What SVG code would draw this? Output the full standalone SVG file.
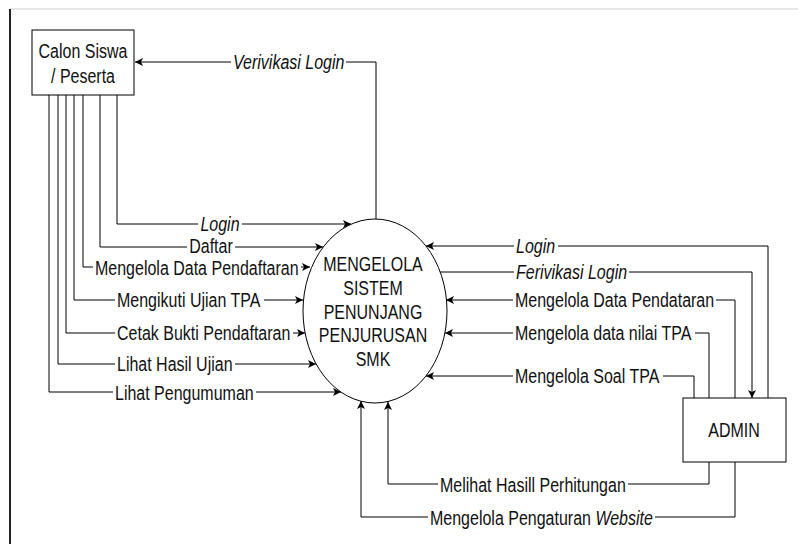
<svg xmlns="http://www.w3.org/2000/svg" width="798" height="544" viewBox="0 0 798 544">
<defs>
<marker id="arr" markerUnits="userSpaceOnUse" markerWidth="10" markerHeight="8" refX="8" refY="4" orient="auto">
<path d="M0,0 L8,4 L0,8 L2,4 z" fill="#000"/>
</marker>
<style>
.ln{fill:none;stroke:#000;stroke-width:1}
.t{font-family:"Liberation Sans",Arial,sans-serif;font-size:16px;fill:#111}
.i{font-style:italic}
.mid{text-anchor:middle}
.bg{fill:#fff}
.box{fill:#fff;stroke:#000;stroke-width:1}
</style>
</defs>
<rect width="798" height="544" fill="#fff"/>
<line x1="10" y1="9" x2="798" y2="9" stroke="#d0d0d0" stroke-width="1"/>
<line x1="10" y1="9" x2="10" y2="544" stroke="#222" stroke-width="2"/>

<g id="connectors">
<path class="ln" d="M376,219 V62 H135" marker-end="url(#arr)"/>
<path class="ln" d="M117,95 V224 H351" marker-end="url(#arr)"/>
<path class="ln" d="M100,95 V247 H323" marker-end="url(#arr)"/>
<path class="ln" d="M83,95 V267 H310" marker-end="url(#arr)"/>
<path class="ln" d="M74,95 V300 H303" marker-end="url(#arr)"/>
<path class="ln" d="M66,95 V333 H305" marker-end="url(#arr)"/>
<path class="ln" d="M58,95 V364 H316" marker-end="url(#arr)"/>
<path class="ln" d="M49,95 V392 H341" marker-end="url(#arr)"/>
<path class="ln" d="M768,400 V246 H426" marker-end="url(#arr)"/>
<path class="ln" d="M440,272 H752 V398" marker-end="url(#arr)"/>
<path class="ln" d="M735,398 V300 H446" marker-end="url(#arr)"/>
<path class="ln" d="M709,398 V333 H445" marker-end="url(#arr)"/>
<path class="ln" d="M694,398 V376 H426" marker-end="url(#arr)"/>
<path class="ln" d="M709,462 V484 H388 V402" marker-end="url(#arr)"/>
<path class="ln" d="M735,462 V517 H361 V401" marker-end="url(#arr)"/>

<rect class="bg" x="231" y="54" width="115" height="18"/>
<rect class="bg" x="198" y="216" width="44" height="16"/>
<rect class="bg" x="187" y="239" width="48" height="16"/>
<rect class="bg" x="93" y="259" width="208" height="16"/>
<rect class="bg" x="115" y="292" width="149" height="16"/>
<rect class="bg" x="115" y="325" width="178" height="16"/>
<rect class="bg" x="115" y="356" width="120" height="16"/>
<rect class="bg" x="113" y="385" width="143" height="18"/>
<rect class="bg" x="514" y="238" width="44" height="16"/>
<rect class="bg" x="514" y="264" width="115" height="16"/>
<rect class="bg" x="513" y="292" width="203" height="16"/>
<rect class="bg" x="513" y="325" width="182" height="16"/>
<rect class="bg" x="513" y="368" width="150" height="16"/>
<rect class="bg" x="438" y="477" width="190" height="18"/>
<rect class="bg" x="428" y="510" width="227" height="18"/>

<text class="t i" transform="translate(233,69) scale(1,1.3)">Verivikasi Login</text>
<text class="t i mid" transform="translate(220,231) scale(1,1.3)">Login</text>
<text class="t mid" transform="translate(211,253) scale(1,1.3)">Daftar</text>
<text class="t" transform="translate(95,275) scale(1,1.3)">Mengelola Data Pendaftaran</text>
<text class="t" transform="translate(117,307) scale(1,1.3)">Mengikuti Ujian TPA</text>
<text class="t" transform="translate(117,340) scale(1,1.3)">Cetak Bukti Pendaftaran</text>
<text class="t" transform="translate(117,371) scale(1,1.3)">Lihat Hasil Ujian</text>
<text class="t" transform="translate(115,400) scale(1,1.3)">Lihat Pengumuman</text>
<text class="t i" transform="translate(516,253) scale(1,1.3)">Login</text>
<text class="t i" transform="translate(516,279) scale(1,1.3)">Ferivikasi Login</text>
<text class="t" transform="translate(515,307) scale(1,1.3)">Mengelola Data Pendataran</text>
<text class="t" transform="translate(515,340) scale(1,1.3)">Mengelola data nilai TPA</text>
<text class="t" transform="translate(515,383) scale(1,1.3)">Mengelola Soal TPA</text>
<text class="t" transform="translate(440,492) scale(1,1.3)">Melihat Hasill Perhitungan</text>
<text class="t" transform="translate(430,525) scale(1,1.3)">Mengelola Pengaturan <tspan class="i">Website</tspan></text>
</g>

<g id="calon-siswa">
<rect class="box" x="32" y="30" width="102" height="65"/>
<text class="t mid" transform="translate(83,58) scale(1,1.3)">Calon Siswa</text>
<text class="t mid" transform="translate(83,83) scale(1,1.3)">/ Peserta</text>
</g>

<g id="proses">
<ellipse cx="375" cy="311" rx="72" ry="92" fill="#fff" stroke="#000" stroke-width="1"/>
<text class="t mid" transform="translate(373,271) scale(1,1.3)">MENGELOLA</text>
<text class="t mid" transform="translate(373,295) scale(1,1.3)">SISTEM</text>
<text class="t mid" transform="translate(373,319) scale(1,1.3)">PENUNJANG</text>
<text class="t mid" transform="translate(373,342) scale(1,1.3)">PENJURUSAN</text>
<text class="t mid" transform="translate(373,366) scale(1,1.3)">SMK</text>
</g>

<g id="admin">
<rect class="box" x="683" y="398" width="103" height="64"/>
<text class="t mid" transform="translate(734,437) scale(1,1.3)">ADMIN</text>
</g>
</svg>
